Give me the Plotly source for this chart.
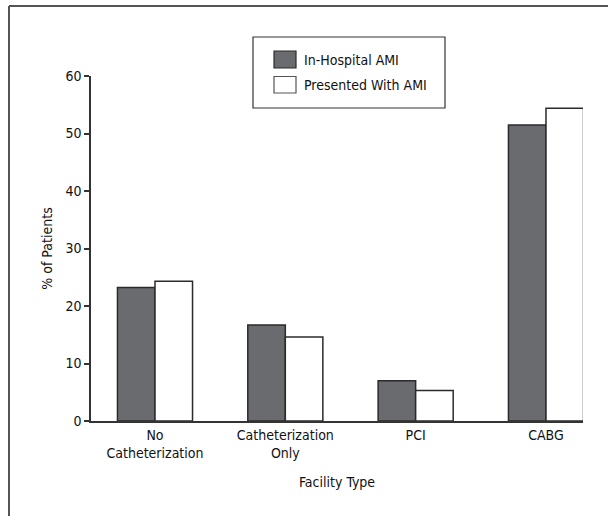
import plotly.graph_objects as go

categories = ["No<br>Catheterization", "Catheterization<br>Only", "PCI", "CABG"]
series_names = ["In-Hospital AMI", "Presented With AMI"]
in_hospital = [23.2, 16.7, 7.0, 51.5]
presented = [24.3, 14.6, 5.3, 54.4]

FONT = "DejaVu Sans Condensed, Roboto, sans-serif"
FS = 14
TXT = "#111111"
DARK = "#6a6b6f"
EDGE = "#2b2b2b"

W, H = 608, 516
L, R, T, B = 91, 583, 76, 421

fig = go.Figure()
fig.add_trace(go.Bar(x=categories, y=in_hospital, name=series_names[0],
                     marker=dict(color=DARK, line=dict(color=EDGE, width=1.5)),
                     showlegend=False))
fig.add_trace(go.Bar(x=categories, y=presented, name=series_names[1],
                     marker=dict(color="white", line=dict(color=EDGE, width=1.5)),
                     showlegend=False))

def px(x):
    return (x - L) / (R - L)

def py(y):
    return (B - y) / (B - T)

shapes = []
# outer frame (left and top edges)
shapes.append(dict(type="line", xref="paper", yref="paper", x0=px(9), x1=px(9), y0=py(6), y1=py(520),
                   line=dict(color="#555555", width=2)))
shapes.append(dict(type="line", xref="paper", yref="paper", x0=px(9), x1=px(612), y0=py(6), y1=py(6),
                   line=dict(color="#555555", width=2)))
# legend box
shapes.append(dict(type="rect", xref="paper", yref="paper", x0=px(253), x1=px(445), y0=py(37), y1=py(108),
                   line=dict(color="#333333", width=1.2), fillcolor="white"))
shapes.append(dict(type="rect", xref="paper", yref="paper", x0=px(274), x1=px(296), y0=py(51), y1=py(68),
                   line=dict(color=EDGE, width=1.2), fillcolor=DARK))
shapes.append(dict(type="rect", xref="paper", yref="paper", x0=px(274), x1=px(296), y0=py(76.5), y1=py(93),
                   line=dict(color="#555555", width=1.2), fillcolor="white"))

annotations = [
    dict(xref="paper", yref="paper", x=px(302), y=py(60), text=series_names[0], showarrow=False,
         xanchor="left", yanchor="middle", font=dict(family=FONT, size=FS, color=TXT)),
    dict(xref="paper", yref="paper", x=px(302), y=py(85), text=series_names[1], showarrow=False,
         xanchor="left", yanchor="middle", font=dict(family=FONT, size=FS, color=TXT)),
]

fig.update_layout(
    width=W, height=H,
    margin=dict(l=L, r=W - R, t=T, b=H - B, autoexpand=False),
    paper_bgcolor="white", plot_bgcolor="white",
    barmode="group", bargap=0.424, bargroupgap=0,
    font=dict(family=FONT, size=FS, color=TXT),
    shapes=shapes, annotations=annotations,
    xaxis=dict(type="category", range=[-0.491, 3.284], showline=True, linecolor="#333", linewidth=1.5,
               ticks="", showgrid=False, zeroline=False,
               title=dict(text="Facility Type", font=dict(family=FONT, size=FS, color=TXT), standoff=17),
               tickfont=dict(family=FONT, size=FS, color=TXT)),
    yaxis=dict(range=[0, 60], dtick=10, showline=True, linecolor="#333", linewidth=1.5,
               ticks="outside", ticklen=5, tickcolor="#333", tickwidth=1.5, showgrid=False, zeroline=False,
               title=dict(text="% of Patients", font=dict(family=FONT, size=FS, color=TXT), standoff=10),
               tickfont=dict(family=FONT, size=FS, color=TXT)),
)

fig.write_html("out.html", config={"displayModeBar": False},
               post_script="document.body.style.margin='0px';")
